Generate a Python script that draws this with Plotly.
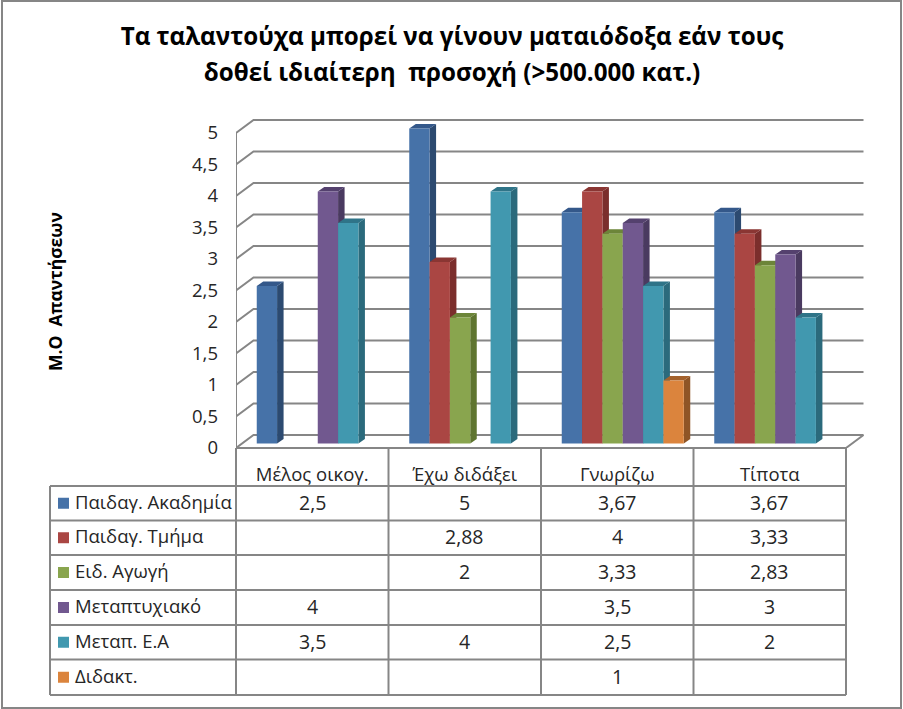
import plotly.graph_objects as go

categories = ["Μέλος οικογ.", "Έχω διδάξει", "Γνωρίζω", "Τίποτα"]
series_names = ["Παιδαγ. Ακαδημία", "Παιδαγ. Τμήμα", "Ειδ. Αγωγή", "Μεταπτυχιακό", "Μεταπ. Ε.Α", "Διδακτ."]
akadimia = [2.5, 5, 3.67, 3.67]
tmima = [None, 2.88, 4, 3.33]
eid_agogi = [None, 2, 3.33, 2.83]
metaptyxiako = [4, None, 3.5, 3]
metap_ea = [3.5, 4, 2.5, 2]
didakt = [None, None, 1, None]
y_ticks = [0, 0.5, 1, 1.5, 2, 2.5, 3, 3.5, 4, 4.5, 5]

series_values = [akadimia, tmima, eid_agogi, metaptyxiako, metap_ea, didakt]
front = ["#4672A8", "#AA4643", "#89A54E", "#71588F", "#4198AF", "#DB843D"]
side = ["#2C4A70", "#7B2E2C", "#5F7530", "#4A3A60", "#2B6A7C", "#8F5526"]
cap = ["#34588A", "#8A3633", "#6C8539", "#54416E", "#2F7488", "#A4622C"]

W, H = 903, 709
X0, X1, Y0, Y5 = 236, 846, 448, 133
PAD_X, PAD_Y = 30, 30       # room on the axes for the depth of the chart
GRID = "#868686"
FONT = "Open Sans"
ux = (X1 - X0) / 4          # pixels per category
uy = (Y0 - Y5) / 5          # pixels per value unit
wall_dx, wall_dy = 17.5 / ux, 13 / uy    # depth of the back wall
bar_sx, bar_sy = 5.5 / ux, 4.5 / uy      # bars stand inside the floor
bar_dx, bar_dy = 6.5 / ux, 4.5 / uy      # depth of one bar
slot = 0.8 / len(series_names)
x_top = 3.5 + PAD_X / ux
y_top = 5 + PAD_Y / uy

px = lambda x: x / W
py = lambda y: 1 - y / H

fig = go.Figure()

# back wall gridlines with their diagonal stubs, left edge and floor corner
gx, gy = [-0.5, -0.5, None], [0, 5, None]
for t in y_ticks:
    gx += [-0.5, -0.5 + wall_dx, 3.5 + wall_dx, None]
    gy += [t, t + wall_dy, t + wall_dy, None]
gx += [3.5, 3.5 + wall_dx, None]
gy += [0, wall_dy, None]
fig.add_trace(go.Scatter(x=gx, y=gy, mode="lines", line=dict(color=GRID, width=2),
                         hoverinfo="skip", showlegend=False))

# depth faces of the bars, computed from the values
for j, vals in enumerate(series_values):
    sx, sy, cx, cy = [], [], [], []
    for i, v in enumerate(vals):
        if v is None:
            continue
        l = i + (j - 3) * slot + bar_sx
        r = l + slot
        sx += [r, r + bar_dx, r + bar_dx, r, r, None]
        sy += [bar_sy, bar_sy + bar_dy, bar_sy + bar_dy + v, bar_sy + v, bar_sy, None]
        cx += [l, l + bar_dx, r + bar_dx, r, l, None]
        cy += [bar_sy + v, bar_sy + v + bar_dy, bar_sy + v + bar_dy, bar_sy + v, bar_sy + v, None]
    for xs, ys, col in ((sx, sy, side[j]), (cx, cy, cap[j])):
        fig.add_trace(go.Scatter(x=xs, y=ys, mode="lines", fill="toself", fillcolor=col,
                                 line=dict(width=0, color=col),
                                 hoverinfo="skip", showlegend=False))

# front faces: real bars on an overlaid, slightly shifted pair of axes
for j, vals in enumerate(series_values):
    fig.add_trace(go.Bar(name=series_names[j], x=categories, y=vals, xaxis="x2", yaxis="y2",
                         marker=dict(color=front[j], line=dict(width=0)), showlegend=False))

# data table
shapes = [dict(type="rect", xref="paper", yref="paper", x0=px(2), x1=px(901), y0=py(708), y1=py(1),
               line=dict(color=GRID, width=2), layer="below")]
col_x = [X0 + ux * i for i in range(5)]
row_y = [486, 520.5, 555, 590, 625, 659.5, 695]
TL = 50


def hline(x0, x1, y):
    shapes.append(dict(type="line", xref="paper", yref="paper", x0=px(x0), x1=px(x1), y0=py(y), y1=py(y),
                       line=dict(color=GRID, width=2)))


def vline(x, y0, y1):
    shapes.append(dict(type="line", xref="paper", yref="paper", x0=px(x), x1=px(x), y0=py(y0), y1=py(y1),
                       line=dict(color=GRID, width=2)))


hline(X0, X1, Y0)
for y in row_y:
    hline(TL, X1, y)
vline(TL, row_y[0], row_y[-1])
for x in col_x:
    vline(x, Y0, row_y[-1])

annotations = []
TEXT = "#262626"
for j, name in enumerate(series_names):
    yc = (row_y[j] + row_y[j + 1]) / 2
    shapes.append(dict(type="rect", xref="paper", yref="paper", x0=px(58), x1=px(69),
                       y0=py(yc + 5.5), y1=py(yc - 5.5), fillcolor=front[j], line=dict(width=0)))
    annotations.append(dict(text=name, xref="paper", yref="paper", x=px(73), y=py(yc - 2), xanchor="left",
                            yanchor="middle", showarrow=False, font=dict(family=FONT, size=18.5, color=TEXT)))
    for i, v in enumerate(series_values[j]):
        if v is None:
            continue
        annotations.append(dict(text=f"{v:g}".replace(".", ","), xref="paper", yref="paper",
                                x=px(col_x[i] + ux / 2), y=py(yc - 1), xanchor="center", yanchor="middle",
                                showarrow=False, font=dict(family=FONT, size=19.5, color=TEXT)))

annotations.append(dict(text="<b>Μ.Ο  Απαντήσεων</b>", xref="paper", yref="paper", x=px(55), y=py(292),
                        textangle=-90, xanchor="center", yanchor="middle", showarrow=False,
                        font=dict(family=FONT, size=17.5, color="#000000")))

axis_font = dict(family=FONT, size=18.5, color=TEXT)
title_span = '<span style="font-size:24.2px">%s</span>'
dom_x = [px(X0), px(X1 + PAD_X)]
dom_y = [py(Y0), py(Y5 - PAD_Y)]
fig.update_layout(
    width=W, height=H, margin=dict(l=0, r=0, t=0, b=0, autoexpand=False), autosize=False,
    paper_bgcolor="white", plot_bgcolor="rgba(0,0,0,0)", separators=", ",
    barmode="group", bargap=0.2, bargroupgap=0,
    title=dict(text=title_span % "<b>Τα ταλαντούχα μπορεί να γίνουν ματαιόδοξα εάν τους</b>" + "<br>"
               + title_span % "<b>δοθεί ιδιαίτερη  προσοχή (&gt;500.000 κατ.)</b>",
               x=px(452), xanchor="center", xref="paper", y=py(45), yanchor="middle", yref="paper",
               font=dict(family=FONT, size=27.7, color="#000000")),
    xaxis=dict(domain=dom_x, range=[-0.5, x_top], tickmode="array", tickvals=[0, 1, 2, 3],
               ticktext=categories, showgrid=False, zeroline=False, showline=False, ticks="",
               ticklabelstandoff=13, tickfont=axis_font, fixedrange=True),
    yaxis=dict(domain=dom_y, range=[0, y_top], tickmode="array", tickvals=y_ticks,
               showgrid=False, zeroline=False, showline=False, ticks="",
               ticklabelstandoff=17, tickfont=axis_font, fixedrange=True),
    xaxis2=dict(domain=dom_x, overlaying="x", anchor="y2", type="category",
                categoryorder="array", categoryarray=categories,
                range=[-0.5 - bar_sx, x_top - bar_sx], visible=False, fixedrange=True),
    yaxis2=dict(domain=dom_y, overlaying="y", anchor="x2",
                range=[-bar_sy, y_top - bar_sy], visible=False, fixedrange=True),
    shapes=shapes, annotations=annotations,
)

fig.write_html("out.html", config={"displayModeBar": False},
               post_script="document.body.style.margin='0';")
